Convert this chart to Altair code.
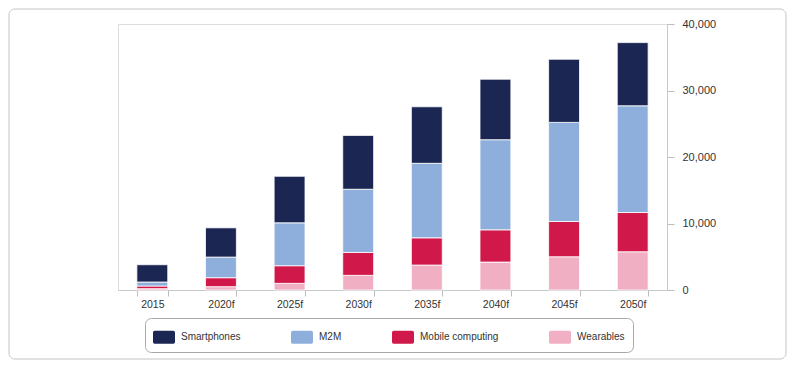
import altair as alt
import pandas as pd

years = ["2015", "2020f", "2025f", "2030f", "2035f", "2040f", "2045f", "2050f"]
series = ["Smartphones", "M2M", "Mobile computing", "Wearables"]
colors = ["#1c2653", "#8eaedb", "#d0194a", "#f0afc2"]
smartphones = [2600, 4400, 7000, 8100, 8500, 9100, 9500, 9500]
m2m = [600, 3100, 6450, 9500, 11200, 13550, 14900, 16050]
mobile = [400, 1350, 2650, 3450, 4100, 4850, 5300, 5900]
wearables = [200, 500, 1000, 2200, 3750, 4200, 5000, 5750]

rows = []
for vals, name, order in [(wearables, "Wearables", 1), (mobile, "Mobile computing", 2),
                          (m2m, "M2M", 3), (smartphones, "Smartphones", 4)]:
    for y, v in zip(years, vals):
        rows.append({"year": y, "series": name, "value": v, "ord": order})
df = pd.DataFrame(rows)

FONT = "Liberation Sans"
sym = ("M-0.85,-0.59 H0.85 Q1,-0.59 1,-0.44 V0.44 Q1,0.59 0.85,0.59 "
       "H-0.85 Q-1,0.59 -1,0.44 V-0.44 Q-1,-0.59 -0.85,-0.59 Z")

bars = alt.Chart(df).mark_bar(stroke="white", strokeWidth=0.8).encode(
    x=alt.X("year:N", sort=years, title=None,
            scale=alt.Scale(paddingInner=0.55, paddingOuter=0.275),
            axis=alt.Axis(labelAngle=0, tickBand="extent", tickSize=6,
                          tickColor="#bdbdbd", domainColor="#c8c8c8",
                          labelColor="#333", labelFont=FONT, labelFontSize=10.5,
                          labelPadding=3)),
    y=alt.Y("value:Q", stack="zero", title=None,
            scale=alt.Scale(domain=[0, 40000], nice=False),
            axis=alt.Axis(orient="right", values=[0, 10000, 20000, 30000, 40000],
                          format=",.0f", grid=False, tickSize=7, tickColor="#bdbdbd",
                          domainColor="#c8c8c8", labelColor="#333", labelFont=FONT,
                          labelFontSize=11, labelPadding=8)),
    color=alt.Color("series:N", scale=alt.Scale(domain=series, range=colors),
                    legend=alt.Legend(title=None, orient="none", legendX=27, legendY=294,
                                      direction="horizontal", columns=4, gridAlign="each",
                                      columnPadding=50, symbolType=sym, symbolSize=484,
                                      symbolStrokeWidth=0, labelFont=FONT, labelFontSize=10,
                                      labelColor="#333", labelOffset=6, padding=8,
                                      strokeColor="#a8a8a8", cornerRadius=6,
                                      fillColor="white")),
    order=alt.Order("ord:Q", sort="ascending"),
)

frame = alt.Chart(pd.DataFrame({"a": [0]})).mark_rect(
    fill=None, stroke="#c4c4c4", strokeWidth=1, cornerRadius=6
).encode(x=alt.value(-109), x2=alt.value(668), y=alt.value(-15), y2=alt.value(335))

chart = alt.layer(frame, bars).properties(
    width=549, height=266,
    padding={"left": 110, "top": 16, "right": 120, "bottom": 70},
    autosize=alt.AutoSizeParams(type="none"),
).configure_view(stroke="#d6d6d6", strokeWidth=1).configure(background="white")

chart.save("out.html", embed_options={"renderer": "svg", "actions": False})
